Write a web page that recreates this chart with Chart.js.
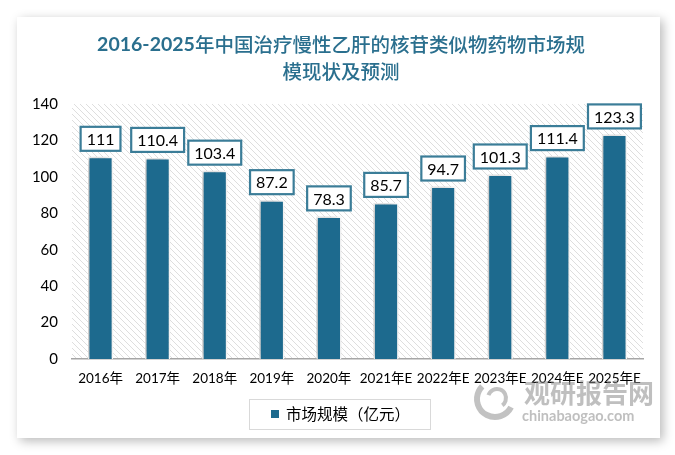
<!DOCTYPE html>
<html><head><meta charset="utf-8">
<script src="https://cdn.jsdelivr.net/npm/chart.js@4/dist/chart.umd.min.js"></script>
<style>
html,body{margin:0;padding:0;background:#fff;width:675px;height:455px;overflow:hidden}
#card{position:absolute;left:17px;top:17px;width:643px;height:421px;background:#fff;box-shadow:3px 3px 10px rgba(0,0,0,0.28)}
#c{position:absolute;left:0;top:0}
</style></head><body>
<div id="card"></div>
<canvas id="c" width="675" height="455"></canvas>
<script>
const titlePrefix = '2016-2025';
const titleLines = ['年中国治疗慢性乙肝的核苷类似物药物市场规', '模现状及预测'];
const categories = ['2016年','2017年','2018年','2019年','2020年','2021年E','2022年E','2023年E','2024年E','2025年E'];
const marketSize = [111, 110.4, 103.4, 87.2, 78.3, 85.7, 94.7, 101.3, 111.4, 123.3];
const seriesName = '市场规模（亿元）';
const yMin = 0, yMax = 140, yStep = 20;
const watermarkCn = '观研报告网';
const watermarkEn = 'chinabaogao.com';

const BAR = '#1d6a8e';
const TITLE = '#2a6f8e';
const LABEL_BORDER = '#3b7d98';
const CJK = "'Noto Sans CJK SC'";
const LAT = "Lato, 'Noto Sans CJK SC', sans-serif";

function hatch() {
  const n = 6, t = document.createElement('canvas');
  t.width = n; t.height = n;
  const g = t.getContext('2d');
  g.fillStyle = '#ffffff'; g.fillRect(0,0,n,n);
  g.strokeStyle = '#dedede'; g.lineWidth = 1;
  g.beginPath();
  g.moveTo(-1,-1); g.lineTo(n+1,n+1);
  g.moveTo(-1,n-1); g.lineTo(1,n+1);
  g.moveTo(n-1,-1); g.lineTo(n+1,1);
  g.stroke();
  return t;
}

const decor = {
  id: 'decor',
  beforeDraw(chart) {
    const {ctx, chartArea: a} = chart;
    ctx.save();
    ctx.fillStyle = ctx.createPattern(hatch(), 'repeat');
    ctx.fillRect(a.left, a.top, a.right - a.left, a.bottom - a.top);
    ctx.restore();
  },
  beforeDatasetsDraw(chart) {
    const ctx = chart.ctx;
    ctx.save();
    ctx.shadowColor = 'rgba(0,0,0,0.28)';
    ctx.shadowBlur = 8;
    ctx.shadowOffsetX = -3;
    ctx.shadowOffsetY = 0;
  },
  afterDatasetsDraw(chart) {
    const ctx = chart.ctx;
    ctx.restore();
    const meta = chart.getDatasetMeta(0);
    ctx.save();
    ctx.font = "16px " + LAT;
    ctx.textAlign = 'center';
    ctx.textBaseline = 'middle';
    meta.data.forEach((bar, i) => {
      const txt = String(chart.data.datasets[0].data[i]);
      const w = ctx.measureText(txt).width + 12;
      const h = 24;
      const bottom = bar.y - 6;
      const x = bar.x - w / 2, y = bottom - h;
      ctx.fillStyle = '#fff';
      ctx.fillRect(x, y, w, h);
      ctx.strokeStyle = LABEL_BORDER;
      ctx.lineWidth = 2.2;
      ctx.strokeRect(x, y, w, h);
      ctx.fillStyle = '#000';
      ctx.fillText(txt, bar.x, y + h / 2 + 1);
    });
    ctx.restore();
  },
  afterDraw(chart) {
    const ctx = chart.ctx;
    ctx.save();
    // title: bold digits + medium-weight CJK
    ctx.fillStyle = TITLE;
    ctx.textBaseline = 'middle';
    ctx.textAlign = 'left';
    const f1 = "bold 19.5px " + LAT, f2 = "500 19.5px " + CJK;
    ctx.font = f1; const w1 = ctx.measureText(titlePrefix).width;
    ctx.font = f2; const w2 = ctx.measureText(titleLines[0]).width;
    let x0 = 341 - (w1 + w2) / 2;
    ctx.font = f1; ctx.fillText(titlePrefix, x0, 45);
    ctx.font = f2; ctx.fillText(titleLines[0], x0 + w1, 45);
    ctx.textAlign = 'center';
    ctx.fillText(titleLines[1], 341, 72);
    // legend
    ctx.strokeStyle = '#d9d9d9';
    ctx.lineWidth = 1;
    ctx.strokeRect(249.5, 399.5, 181, 30);
    ctx.fillStyle = BAR;
    ctx.fillRect(271, 410, 8, 8);
    ctx.fillStyle = '#000';
    ctx.textAlign = 'left';
    ctx.font = "15.5px " + CJK;
    ctx.fillText(seriesName, 286, 414);
    // watermark
    ctx.globalAlpha = 0.55;
    ctx.strokeStyle = '#8f8f8f';
    ctx.lineWidth = 6;
    ctx.beginPath(); ctx.arc(495, 399, 18, Math.PI * 0.15, Math.PI * 1.25); ctx.stroke();
    ctx.lineWidth = 4;
    ctx.beginPath(); ctx.arc(497, 398, 9, Math.PI * 1.1, Math.PI * 2.3); ctx.stroke();
    ctx.fillStyle = '#8a8a8a';
    ctx.font = "bold 26px " + CJK;
    ctx.fillText(watermarkCn, 524, 393);
    ctx.font = "bold 14.5px " + LAT;
    ctx.fillText(watermarkEn, 522, 416);
    ctx.restore();
  }
};

new Chart(document.getElementById('c'), {
  type: 'bar',
  data: {
    labels: categories,
    datasets: [{
      label: seriesName,
      data: marketSize,
      backgroundColor: BAR,
      borderColor: '#ffffff',
      borderWidth: 1.5,
      barPercentage: 0.44,
      categoryPercentage: 1.0
    }]
  },
  options: {
    responsive: false,
    animation: false,
    devicePixelRatio: 1,
    layout: { padding: { left: 18, right: 32, top: 104, bottom: 0 } },
    plugins: { legend: { display: false }, title: { display: false }, tooltip: { enabled: false } },
    scales: {
      x: {
        grid: { display: false, drawTicks: false },
        border: { display: true, color: '#a6a6a6', width: 1.5 },
        ticks: { color: '#000', font: { family: LAT, size: 13.5 }, padding: 12, maxRotation: 0, minRotation: 0, autoSkip: false },
        afterFit(s) { s.height = 96; }
      },
      y: {
        min: yMin, max: yMax,
        grid: { display: false, drawTicks: false },
        border: { display: false },
        ticks: { stepSize: yStep, color: '#000', font: { family: LAT, size: 15 }, padding: 14 },
        afterFit(s) { s.width = 54; }
      }
    }
  },
  plugins: [decor]
});
</script>
</body></html>
